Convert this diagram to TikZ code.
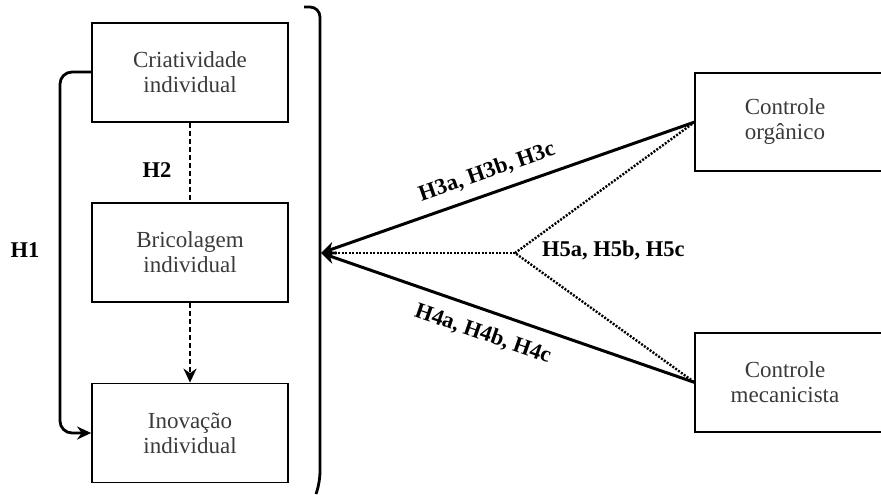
\documentclass[tikz,border=0pt]{standalone}
\usepackage{fontspec}
\setmainfont{Liberation Serif}
\usetikzlibrary{arrows.meta}
\definecolor{boxtext}{HTML}{3A3A3A}
\begin{document}
\begin{tikzpicture}[x=1pt,y=-1pt,
  box/.style={draw=black, line width=1.8pt, minimum width=196pt, minimum height=99pt,
    align=center, text=boxtext, font=\fontsize{23}{25}\selectfont, inner sep=0pt},
  ctrltext/.style={minimum width=180pt, minimum height=98pt, align=center, text=boxtext,
    font=\fontsize{23}{25}\selectfont, inner sep=0pt},
  hyp/.style={font=\bfseries\fontsize{22.5}{24}\selectfont, inner sep=0pt},
  tipsty/.style={-{Stealth[length=14pt,width=13pt]}},
  solidline/.style={line width=3pt},
  dashline/.style={line width=2.4pt, dash pattern=on 5pt off 3pt},
  dotline/.style={line width=2.4pt, dash pattern=on 2pt off 1.5pt}]
\useasboundingbox (0,0) rectangle (881,495);

% left column of constructs
\node[box] (cri) at (190,72.5) {Criatividade\\individual};
\node[box] (bri) at (190,252.5) {Bricolagem\\individual};
\node[box] (ino) at (190,433) {Inovação\\individual};

% control constructs (boxes run past the right edge)
\node[ctrltext] (org) at (785,122) {Controle\\orgânico};
\node[ctrltext] (mec) at (785,382.5) {Controle\\mecanicista};
\draw[line width=1.8pt] (org.north west) rectangle ([xshift=30pt]org.south east);
\draw[line width=1.8pt] (mec.north west) rectangle ([xshift=30pt]mec.south east);

% H2 chain
\draw[dashline] (cri.south) -- (bri.north);
\draw[dashline, tipsty] (bri.south) -- (ino.north);
\node[hyp] (h2) at (157,170) {H2};

% H1 loop on the left
\coordinate (h1a) at (60,72);
\coordinate (h1b) at (60,433);
\draw[line width=2.8pt, rounded corners=12pt, tipsty] (cri.west |- h1a) -- (h1a) -- (h1b) -- (ino.west);
\node[hyp] (h1) at (25,250) {H1};

% bracket grouping the left column
\draw[line width=2.8pt, rounded corners=10pt] (304,7) -- (320,7) -- (320,482) -- (316,494);
\coordinate (tip) at (321,253);
\coordinate (jn) at (515,253);

% moderation (dotted) paths
\draw[dotline] (org.west) -- (jn) -- (mec.west);
\draw[dotline] (jn) -- ([xshift=14pt]tip);

% direct effects
\draw[solidline, tipsty] (org.west) -- (tip);
\draw[solidline, tipsty] (mec.west) -- (tip);

\node[hyp, rotate=19.2] (h3) at (487,172) {H3a, H3b, H3c};
\node[hyp, rotate=-19.2] (h4) at (483,334) {H4a, H4b, H4c};
\node[hyp, anchor=west] (h5) at (542,250) {H5a, H5b, H5c};
\end{tikzpicture}
\end{document}
